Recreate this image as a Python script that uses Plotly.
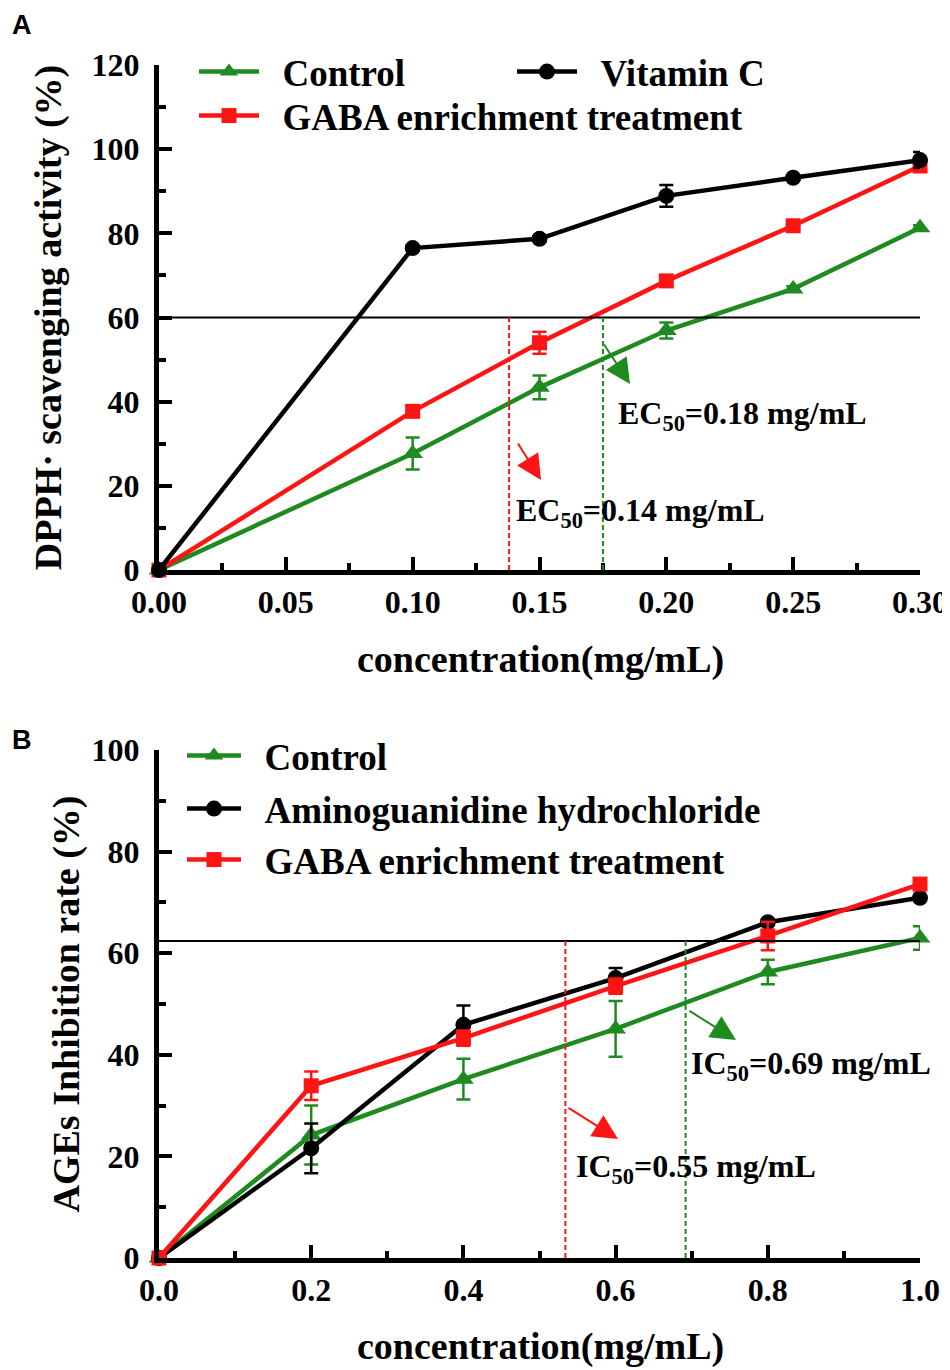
import plotly.graph_objects as go

# ---------------- Data: panel A (DPPH) ----------------
conc_a = [0.0, 0.10, 0.15, 0.20, 0.25, 0.30]
ctrl_a = [0.0, 27.7, 43.4, 56.9, 66.8, 81.3]
ctrl_a_err = [0.0, 3.8, 2.8, 1.9, 0.6, 0.6]
gaba_a = [0.0, 37.7, 54.0, 68.7, 81.8, 96.0]
gaba_a_err = [0.0, 0.8, 2.6, 0.8, 0.8, 0.8]
vitc_a = [0.0, 76.5, 78.7, 88.9, 93.2, 97.4]
vitc_a_err = [0.0, 0.6, 0.6, 2.6, 0.6, 1.9]
ec_level_a = 60
ec_gaba_a = 0.138
ec_ctrl_a = 0.175

# ---------------- Data: panel B (AGEs) ----------------
conc_b = [0.0, 0.2, 0.4, 0.6, 0.8, 1.0]
ctrl_b = [0.0, 24.2, 35.2, 45.1, 56.3, 63.0]
ctrl_b_err = [0.0, 5.8, 4.0, 5.5, 2.4, 2.3]
amino_b = [0.0, 21.6, 45.9, 55.1, 66.1, 70.9]
amino_b_err = [0.0, 4.9, 3.8, 2.0, 0.6, 0.6]
gaba_b = [0.0, 33.9, 43.3, 53.5, 63.4, 73.6]
gaba_b_err = [0.0, 2.8, 1.5, 1.5, 2.8, 0.6]
ic_level_b = 62.4
ic_gaba_b = 0.534
ic_ctrl_b = 0.692

GREEN = "#1f8a1f"
RED = "#ff1414"
BLACK = "#000000"
FONT = "Liberation Serif"
OFF = 8  # default page body margin
FW, FH = 950 - OFF, 1370 - OFF

fig = go.Figure()

def add_series(x, y, err, color, symbol, size, name, xa, ya, legend, pad):
    fig.add_trace(go.Scatter(
        x=x, y=y, mode="lines+markers", name=("&nbsp;" * pad) + name,
        line=dict(color=color, width=4.5),
        marker=dict(symbol=symbol, size=size, color=color),
        error_y=dict(type="data", array=err, visible=True, color=color,
                     thickness=2.5, width=7),
        xaxis=xa, yaxis=ya, legend=legend, cliponaxis=False,
    ))

# Panel A
add_series(conc_a, ctrl_a, ctrl_a_err, GREEN, "triangle-up", 18, "Control", "x", "y", "legend", 2)
add_series(conc_a, gaba_a, gaba_a_err, RED, "square", 15, "GABA enrichment treatment", "x", "y", "legend3", 2)
add_series(conc_a, vitc_a, vitc_a_err, BLACK, "circle", 16, "Vitamin C", "x", "y", "legend2", 2)
# Panel B
add_series(conc_b, ctrl_b, ctrl_b_err, GREEN, "triangle-up", 18, "Control", "x2", "y2", "legend4", 2)
add_series(conc_b, amino_b, amino_b_err, BLACK, "circle", 16, "Aminoguanidine hydrochloride", "x2", "y2", "legend5", 2)
add_series(conc_b, gaba_b, gaba_b_err, RED, "square", 15, "GABA enrichment treatment", "x2", "y2", "legend6", 2)

DASH = "5px,3px"
shapes = [
    dict(type="line", xref="x", yref="y", x0=conc_a[0], x1=conc_a[-1], y0=ec_level_a, y1=ec_level_a,
         line=dict(color="black", width=2)),
    dict(type="line", xref="x", yref="y", x0=ec_gaba_a, x1=ec_gaba_a, y0=0, y1=ec_level_a,
         line=dict(color=RED, width=2, dash=DASH)),
    dict(type="line", xref="x", yref="y", x0=ec_ctrl_a, x1=ec_ctrl_a, y0=0, y1=ec_level_a,
         line=dict(color=GREEN, width=2, dash=DASH)),
    dict(type="line", xref="x2", yref="y2", x0=conc_b[0], x1=conc_b[-1], y0=ic_level_b, y1=ic_level_b,
         line=dict(color="black", width=2)),
    dict(type="line", xref="x2", yref="y2", x0=ic_gaba_b, x1=ic_gaba_b, y0=0, y1=ic_level_b,
         line=dict(color=RED, width=2, dash=DASH)),
    dict(type="line", xref="x2", yref="y2", x0=ic_ctrl_b, x1=ic_ctrl_b, y0=0, y1=ic_level_b,
         line=dict(color=GREEN, width=2, dash=DASH)),
]

def px(x):
    return (x - OFF) / FW

def py(y):
    return 1 - (y - OFF) / FH

def arrow(x0, y0, x1, y1, color):
    return dict(xref="paper", yref="paper", x=px(x1), y=py(y1),
                axref="pixel", ayref="pixel", ax=x0 - x1, ay=y0 - y1,
                showarrow=True, arrowhead=2, arrowsize=2.5, arrowwidth=2,
                arrowcolor=color, text="")

def label(x, y, txt, size=32, anchor="left", family=FONT):
    return dict(xref="paper", yref="paper", x=px(x), y=py(y), xanchor=anchor, yanchor="middle",
                showarrow=False, text=txt, font=dict(family=family, size=size, color="black"))

annotations = [
    label(10, 25, "<b>A</b>", size=27, family="Liberation Sans"),
    label(10, 740, "<b>B</b>", size=27, family="Liberation Sans"),
    arrow(603, 343, 630, 384, GREEN),
    arrow(517, 442, 541, 480, RED),
    arrow(688, 1010, 736, 1040, GREEN),
    arrow(567, 1107, 618, 1139, RED),
    label(616, 415, "<b>EC<sub>50</sub>=0.18 mg/mL</b>"),
    label(514, 512, "<b>EC<sub>50</sub>=0.14 mg/mL</b>"),
    label(689, 1065, "<b>IC<sub>50</sub>=0.69 mg/mL</b>"),
    label(574, 1168, "<b>IC<sub>50</sub>=0.55 mg/mL</b>"),
    # x-axis titles
    label(540, 660, "<b>concentration(mg/mL)</b>", size=38, anchor="center"),
    label(540, 1346, "<b>concentration(mg/mL)</b>", size=38, anchor="center"),
]

tickfont = dict(family=FONT, size=32, color="black", weight="bold")
titlefont = dict(family=FONT, size=38, color="black")

def minor(d):
    return dict(ticks="inside", ticklen=7, tickwidth=4, tickcolor="black", dtick=d, tick0=0)

def axis_common():
    return dict(showline=True, linewidth=5, linecolor="black", ticks="inside", ticklen=13,
                tickwidth=4, tickcolor="black", showgrid=False, zeroline=False,
                tickfont=tickfont, automargin=False, fixedrange=True)

xdom = [px(159), px(920)]

xa = axis_common()
xa.update(domain=xdom, range=[0, 0.30], tickvals=[0, 0.05, 0.10, 0.15, 0.20, 0.25, 0.30],
          ticktext=["0.00", "0.05", "0.10", "0.15", "0.20", "0.25", "0.30"], minor=minor(0.025),
          anchor="y", ticklabelstandoff=0)
ya = axis_common()
ya.update(domain=[py(570), py(65)], range=[0, 120], dtick=20, minor=minor(10),
          anchor="x", title=dict(text="<b>DPPH· scavenging activity (%)</b>", font=titlefont, standoff=20),
          ticklabelstandoff=8)
xb = axis_common()
xb.update(domain=xdom, range=[0, 1.0], tickvals=[0, 0.2, 0.4, 0.6, 0.8, 1.0],
          ticktext=["0.0", "0.2", "0.4", "0.6", "0.8", "1.0"], minor=minor(0.1),
          anchor="y2", ticklabelstandoff=0)
yb = axis_common()
yb.update(domain=[py(1258), py(750)], range=[0, 100], dtick=20, minor=minor(10),
          anchor="x2", title=dict(text="<b>AGEs Inhibition rate (%)</b>", font=titlefont, standoff=2),
          ticklabelstandoff=8)

legfont = dict(family=FONT, size=37, color="black", weight="bold")

def leg(x, y, iw=60):
    return dict(x=px(x), y=py(y), xanchor="left", yanchor="middle", font=legfont,
                bgcolor="rgba(0,0,0,0)", itemwidth=iw, borderwidth=0)

fig.update_layout(
    width=FW, height=FH, margin=dict(l=0, r=0, t=0, b=0),
    paper_bgcolor="white", plot_bgcolor="white",
    xaxis=xa, yaxis=ya, xaxis2=xb, yaxis2=yb,
    shapes=shapes, annotations=annotations,
    legend=leg(194, 72), legend2=leg(512, 72), legend3=leg(194, 116),
    legend4=leg(182, 756, 54), legend5=leg(182, 809, 54), legend6=leg(182, 860, 54),
    showlegend=True,
)

fig.write_html("out.html")
